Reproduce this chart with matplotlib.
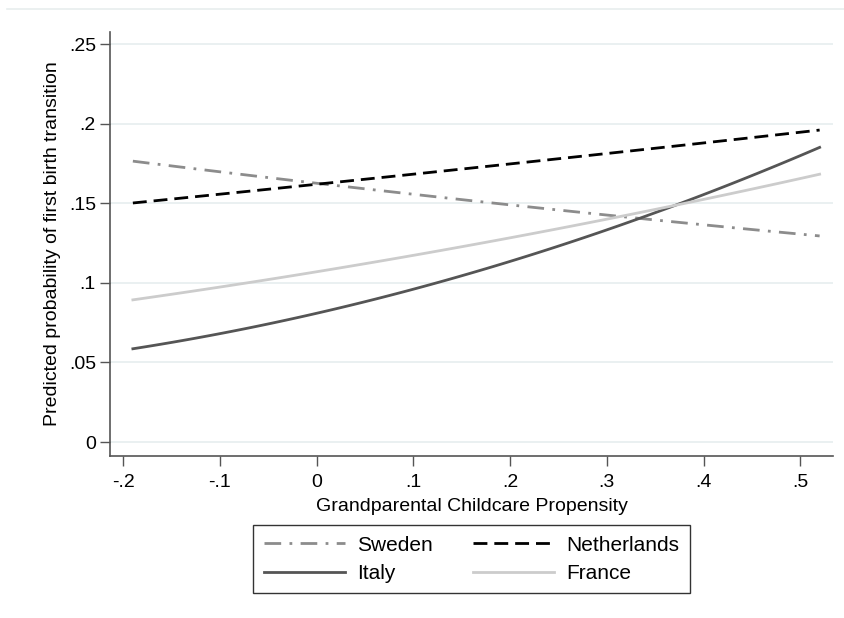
import numpy as np
import matplotlib as mpl
mpl.use('Agg')
from matplotlib import pyplot as plt
from matplotlib.lines import Line2D

plt.rcParams['font.family'] = ['Liberation Sans', 'DejaVu Sans']

# predicted probabilities
gcp = [-0.19, -0.1, 0.0, 0.1, 0.2, 0.3, 0.4, 0.52]
sweden = [0.176, 0.170, 0.163, 0.156, 0.149, 0.142, 0.136, 0.130]
netherlands = [0.150, 0.156, 0.162, 0.168, 0.175, 0.181, 0.188, 0.196]
italy = [0.058, 0.069, 0.081, 0.096, 0.113, 0.133, 0.156, 0.185]
france = [0.089, 0.098, 0.107, 0.117, 0.128, 0.140, 0.153, 0.168]

xticks = [-0.2, -0.1, 0.0, 0.1, 0.2, 0.3, 0.4, 0.5]
xticklabels = ['-.2', '-.1', '0', '.1', '.2', '.3', '.4', '.5']
yticks = [0.0, 0.05, 0.1, 0.15, 0.2, 0.25]
yticklabels = ['0', '.05', '.1', '.15', '.2', '.25']

fig = plt.figure(figsize=(8.45, 6.18), dpi=100)
ax = fig.add_axes([0.130, 0.262, 0.856, 0.686])

# smooth the curves a bit (quadratic fit through read points)
xs = np.linspace(gcp[0], gcp[-1], 100)
def smooth(y):
    return np.polyval(np.polyfit(gcp, y, 2), xs)

l_swe, = ax.plot(xs, smooth(sweden), color='#8c8c8c', lw=2, dashes=(6, 3, 1, 3), label='Sweden')
l_net, = ax.plot(xs, smooth(netherlands), color='black', lw=2, dashes=(5, 2.5), label='Netherlands')
l_ita, = ax.plot(xs, smooth(italy), color='#555555', lw=2, label='Italy')
l_fra, = ax.plot(xs, smooth(france), color='#cccccc', lw=2, label='France')

ax.set_xlim(-0.2138, 0.534)
ax.set_ylim(-0.0088, 0.2575)
ax.set_xticks(xticks)
ax.set_xticklabels(xticklabels)
ax.set_yticks(yticks)
ax.set_yticklabels(yticklabels)
ax.grid(axis='y', color='#e6eeef', lw=1.2)
ax.set_axisbelow(True)
for s in ['top', 'right']:
    ax.spines[s].set_visible(False)
for s in ['left', 'bottom']:
    ax.spines[s].set_color('#555555')
    ax.spines[s].set_linewidth(1.2)
ax.tick_params(direction='out', length=7, width=1, color='#555555', labelsize=14)
ax.tick_params(axis='x', pad=6)
ax.tick_params(axis='y', pad=3)
ax.set_xlabel('Grandparental Childcare Propensity', fontsize=14, labelpad=5)
ax.set_ylabel('Predicted probability of first birth transition', fontsize=14, labelpad=6)

# row-wise order: Sweden, Netherlands / Italy, France
leg = ax.legend([l_swe, l_ita, l_net, l_fra], ['Sweden', 'Italy', 'Netherlands', 'France'],
                ncol=2, loc='upper center', bbox_to_anchor=(0.5, -0.163), borderaxespad=0,
                fontsize=15, handlelength=3.9, handletextpad=0.6, columnspacing=1.9,
                labelspacing=0.45, borderpad=0.5,
                fancybox=False, edgecolor='#333333', framealpha=1)
leg.get_frame().set_linewidth(1)

fig.add_artist(Line2D([7 / 845, 1], [1 - 9 / 618, 1 - 9 / 618], color='#e8eeee', lw=1.2))

fig.savefig('out.png', dpi=100)
